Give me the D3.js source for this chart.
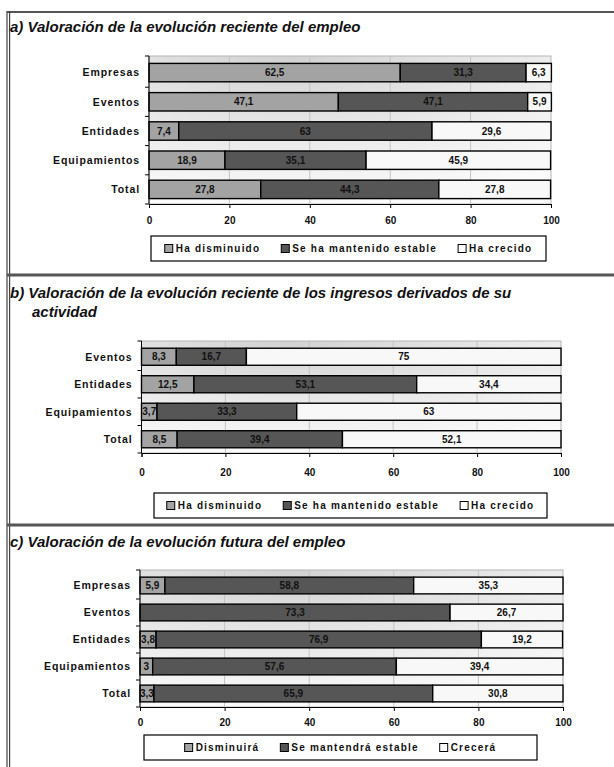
<!DOCTYPE html>
<html>
<head>
<meta charset="utf-8">
<script src="https://cdn.jsdelivr.net/npm/d3@7"></script>
<style>
  body { margin: 0; background: #fff; }
  text { font-family: "Liberation Sans", Arial, sans-serif; }
</style>
</head>
<body>
<div id="chart-area"></div>
<script>
/*
*    three stacked bar panels
*/

// ---- data ----
var catsA = ["Empresas", "Eventos", "Entidades", "Equipamientos", "Total"];
var dismA = [62.5, 47.1, 7.4, 18.9, 27.8];
var estA  = [31.3, 47.1, 63, 35.1, 44.3];
var crecA = [6.3, 5.9, 29.6, 45.9, 27.8];
var legendA = ["Ha disminuido", "Se ha mantenido estable", "Ha crecido"];

var catsB = ["Eventos", "Entidades", "Equipamientos", "Total"];
var dismB = [8.3, 12.5, 3.7, 8.5];
var estB  = [16.7, 53.1, 33.3, 39.4];
var crecB = [75, 34.4, 63, 52.1];
var legendB = ["Ha disminuido", "Se ha mantenido estable", "Ha crecido"];

var catsC = ["Empresas", "Eventos", "Entidades", "Equipamientos", "Total"];
var dismC = [5.9, 0, 3.8, 3, 3.3];
var estC  = [58.8, 73.3, 76.9, 57.6, 65.9];
var crecC = [35.3, 26.7, 19.2, 39.4, 30.8];
var legendC = ["Disminuirá", "Se mantendrá estable", "Crecerá"];

var xTicks = [0, 20, 40, 60, 80, 100];
var colors = ["#a3a3a3", "#565656", "#f8f8f8"];

var W = 614, H = 767;

var svg = d3.select("#chart-area")
    .append("svg")
    .attr("width", W)
    .attr("height", H);

svg.append("rect").attr("width", W).attr("height", H).attr("fill", "#fff");

// background gradient of plot areas
var defs = svg.append("defs");
var grad = defs.append("radialGradient")
    .attr("id", "plotBg")
    .attr("cx", 0.35).attr("cy", 0).attr("r", 1)
    .attr("fx", 0.35).attr("fy", 0);
grad.append("stop").attr("offset", "0%").attr("stop-color", "#d2d2d2");
grad.append("stop").attr("offset", "55%").attr("stop-color", "#e9e9e9");
grad.append("stop").attr("offset", "100%").attr("stop-color", "#fbfbfb");

// frame
svg.append("line").attr("x1", 7).attr("x2", W).attr("y1", 12).attr("y2", 12)
    .attr("stroke", "#555").attr("stroke-width", 2);
svg.append("line").attr("x1", 7).attr("x2", 7).attr("y1", 11).attr("y2", H)
    .attr("stroke", "#444").attr("stroke-width", 1.2);
svg.append("line").attr("x1", 9.6).attr("x2", 9.6).attr("y1", 11).attr("y2", H)
    .attr("stroke", "#444").attr("stroke-width", 1.2);
[275, 525].forEach(function(yy) {
    svg.append("line").attr("x1", 7).attr("x2", W).attr("y1", yy).attr("y2", yy)
        .attr("stroke", "#555").attr("stroke-width", 3);
});

function fmt(v) { return String(v).replace(".", ","); }

function drawPanel(cfg, cats, series, legendLabels) {
    var g = svg.append("g");

    // title
    cfg.title.forEach(function(t) {
        g.append("text")
            .attr("x", t.x).attr("y", t.y)
            .attr("font-size", "15px")
            .attr("font-weight", "bold")
            .attr("font-style", "italic")
            .attr("fill", "#111")
            .text(t.text);
    });

    var x = d3.scaleLinear().domain([0, 100]).range([cfg.x0, cfg.x1]);
    var y = d3.scaleBand().domain(cats)
        .range([cfg.y0 + cfg.shift, cfg.y1])
        .paddingInner(cfg.pad).paddingOuter(cfg.pad / 2);

    // plot background
    g.append("rect")
        .attr("x", cfg.x0).attr("y", cfg.y0)
        .attr("width", cfg.x1 - cfg.x0).attr("height", cfg.y1 - cfg.y0)
        .attr("fill", "url(#plotBg)")
        .attr("stroke", "#b5b5b5").attr("stroke-width", 1);

    // gridlines
    g.selectAll(".grid")
        .data(xTicks.slice(1, -1))
        .enter().append("line")
        .attr("x1", function(d){ return x(d); })
        .attr("x2", function(d){ return x(d); })
        .attr("y1", cfg.y0).attr("y2", cfg.y1)
        .attr("stroke", "#c4c4c4").attr("stroke-width", 1);

    // stacked rows
    var rows = cats.map(function(c, i) {
        var acc = 0;
        return series.map(function(s, k) {
            var seg = { cat: c, k: k, v: s[i], start: acc };
            acc += s[i];
            return seg;
        });
    });
    var segs = d3.merge(rows).filter(function(d){ return d.v > 0; });

    g.selectAll(".bar")
        .data(segs)
        .enter().append("rect")
        .attr("x", function(d){ return x(d.start); })
        .attr("y", function(d){ return y(d.cat); })
        .attr("width", function(d){ return x(d.start + d.v) - x(d.start); })
        .attr("height", y.bandwidth())
        .attr("fill", function(d){ return colors[d.k]; })
        .attr("stroke", "#000")
        .attr("stroke-width", 1.4);

    g.selectAll(".val")
        .data(segs)
        .enter().append("text")
        .attr("x", function(d){ return x(d.start + d.v / 2); })
        .attr("y", function(d){ return y(d.cat) + y.bandwidth() / 2 + 3.6; })
        .attr("text-anchor", "middle")
        .attr("font-size", "10px")
        .attr("font-weight", "bold")
        .attr("fill", "#111")
        .text(function(d){ return fmt(d.v); });

    // x axis
    var xAxisCall = d3.axisBottom(x)
        .tickValues(xTicks)
        .tickSize(4)
        .tickPadding(cfg.tickPad)
        .tickFormat(d3.format("d"));
    var xAxis = g.append("g")
        .attr("transform", "translate(0," + cfg.y1 + ")")
        .call(xAxisCall);
    xAxis.selectAll("text")
        .attr("font-size", "10px")
        .attr("font-weight", "bold")
        .attr("font-family", "Liberation Sans, Arial, sans-serif")
        .attr("fill", "#111");

    // y axis: line and ticks at band boundaries
    g.append("line")
        .attr("x1", cfg.x0).attr("x2", cfg.x0)
        .attr("y1", cfg.y0).attr("y2", cfg.y1)
        .attr("stroke", "#000");
    var bounds = [cfg.y0].concat(cats.slice(0, -1).map(function(c) {
        return y(c) + y.bandwidth() + y.step() * cfg.pad / 2;
    })).concat([cfg.y1]);
    g.selectAll(".ytick")
        .data(bounds)
        .enter().append("line")
        .attr("x1", cfg.x0 - 4).attr("x2", cfg.x0)
        .attr("y1", function(d){ return d; })
        .attr("y2", function(d){ return d; })
        .attr("stroke", "#000");

    g.selectAll(".cat")
        .data(cats)
        .enter().append("text")
        .attr("x", cfg.x0 - 9)
        .attr("y", function(d){ return y(d) + y.bandwidth() / 2 + 3.8; })
        .attr("text-anchor", "end")
        .attr("font-size", "10.5px")
        .attr("font-weight", "bold")
        .attr("letter-spacing", "0.9px")
        .attr("fill", "#111")
        .text(function(d){ return d; });

    // legend
    var lg = cfg.legend;
    g.append("rect")
        .attr("x", lg.x).attr("y", lg.y)
        .attr("width", lg.w).attr("height", lg.h)
        .attr("fill", "#fff")
        .attr("stroke", "#000").attr("stroke-width", 1.2);

    var items = legendLabels.map(function(lab, k) {
        var it = g.append("g");
        it.append("rect")
            .attr("x", 0).attr("y", -4)
            .attr("width", 8).attr("height", 8)
            .attr("fill", k == 2 ? "#fff" : colors[k])
            .attr("stroke", "#000").attr("stroke-width", 1);
        var tx = it.append("text")
            .attr("x", 11).attr("y", 3.6)
            .attr("font-size", "10px")
            .attr("font-weight", "bold")
            .attr("letter-spacing", "1.2px")
            .attr("fill", "#111")
            .text(lab);
        return { g: it, w: 11 + tx.node().getBBox().width };
    });
    var gap = 21;
    var total = d3.sum(items, function(d){ return d.w; }) + gap * (items.length - 1);
    var cx = lg.x + (lg.w - total) / 2;
    items.forEach(function(it) {
        it.g.attr("transform", "translate(" + cx + "," + (lg.y + lg.h / 2) + ")");
        cx += it.w + gap;
    });
}

drawPanel({
    title: [{ x: 10, y: 32, text: "a) Valoración de la evolución reciente del empleo" }],
    x0: 149, x1: 551, y0: 56, y1: 204, shift: 2, pad: 0.37, tickPad: 9,
    legend: { x: 151, y: 236, w: 395, h: 25 }
}, catsA, [dismA, estA, crecA], legendA);

drawPanel({
    title: [
        { x: 10, y: 298, text: "b) Valoración de la evolución reciente de los ingresos derivados de su" },
        { x: 32, y: 316.5, text: "actividad" }
    ],
    x0: 141.5, x1: 561, y0: 341, y1: 453, shift: 2, pad: 0.38, tickPad: 12,
    legend: { x: 154, y: 493, w: 393, h: 25 }
}, catsB, [dismB, estB, crecB], legendB);

drawPanel({
    title: [{ x: 10, y: 547, text: "c) Valoración de la evolución futura del empleo" }],
    x0: 140, x1: 563, y0: 570, y1: 707, shift: 2, pad: 0.38, tickPad: 8,
    legend: { x: 144, y: 735, w: 393, h: 25 }
}, catsC, [dismC, estC, crecC], legendC);
</script>
</body>
</html>
